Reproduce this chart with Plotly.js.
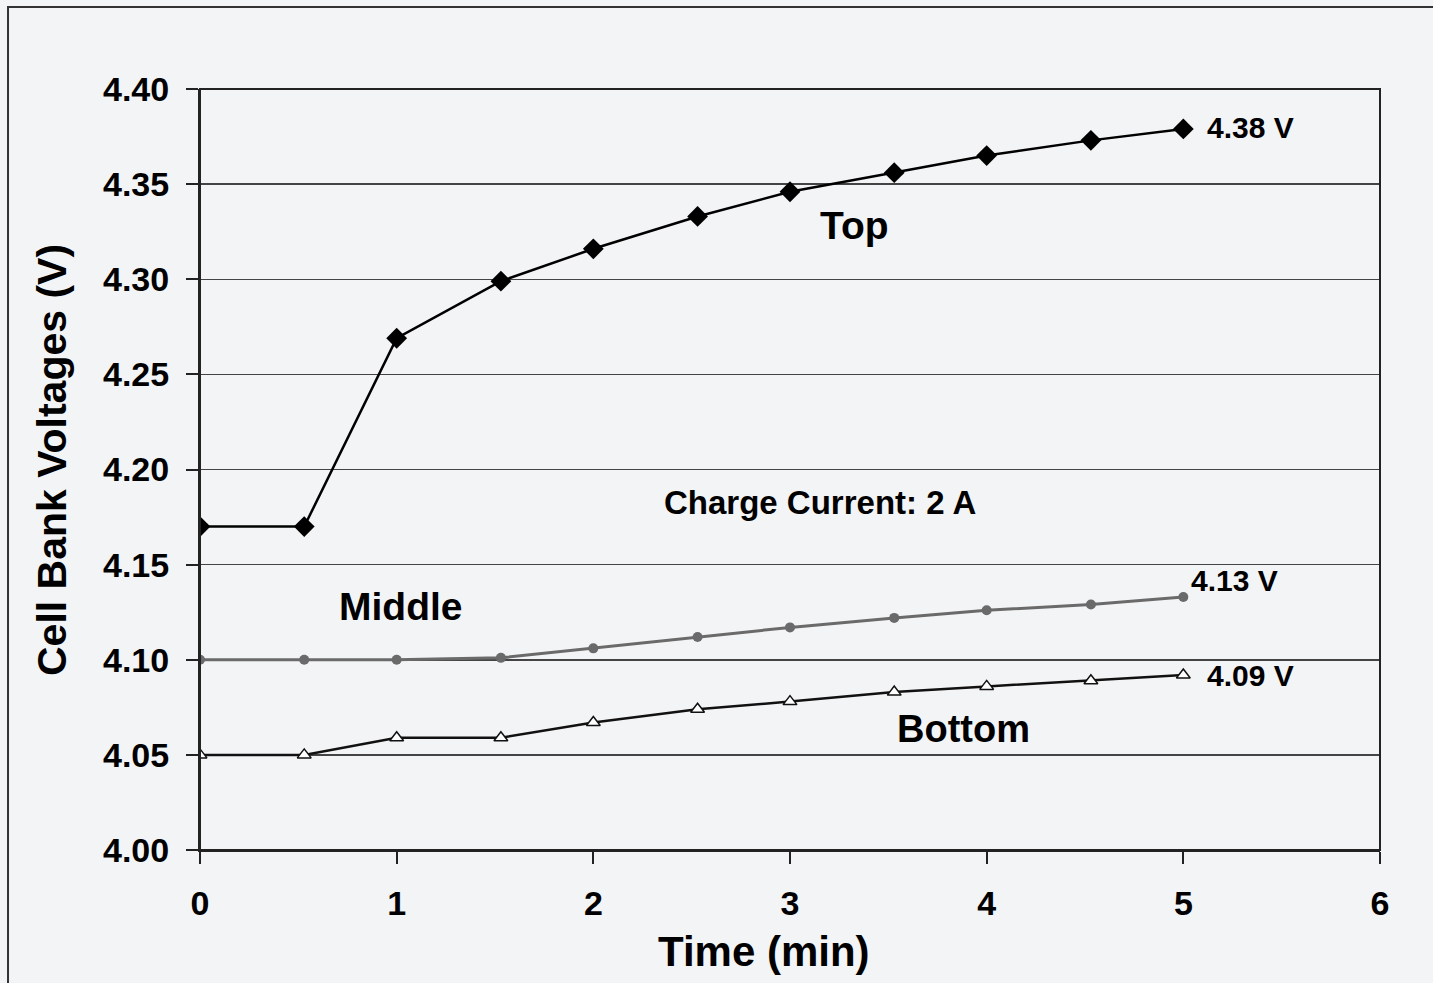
<!DOCTYPE html>
<html>
<head>
<meta charset="utf-8">
<script src="https://cdn.plot.ly/plotly-3.0.1.min.js"></script>
<style>
html,body{margin:0;padding:0;background:#f3f4f6;}
#chart{width:1433px;height:983px;}
</style>
</head>
<body>
<div id="chart"></div>
<script>
const timeMin = [0, 0.53, 1, 1.53, 2, 2.53, 3, 3.53, 4, 4.53, 5];
const topV = [4.170, 4.170, 4.269, 4.299, 4.316, 4.333, 4.346, 4.356, 4.365, 4.373, 4.379];
const middleV = [4.100, 4.100, 4.100, 4.101, 4.106, 4.112, 4.117, 4.122, 4.126, 4.129, 4.133];
const bottomV = [4.050, 4.050, 4.059, 4.059, 4.067, 4.074, 4.078, 4.083, 4.086, 4.089, 4.092];
const yTicks = [4.00, 4.05, 4.10, 4.15, 4.20, 4.25, 4.30, 4.35, 4.40];
const yTickText = ["4.00","4.05","4.10","4.15","4.20","4.25","4.30","4.35","4.40"];
const xTicks = [0,1,2,3,4,5,6];

const font = "Liberation Sans, Arial, sans-serif";

const traces = [
  {x: timeMin, y: middleV, mode: 'lines+markers', name: 'Middle',
   line: {color: '#6a6a6a', width: 3},
   marker: {symbol: 'circle', size: 10, color: '#6a6a6a'}},
  {x: timeMin, y: bottomV, mode: 'lines+markers', name: 'Bottom',
   line: {color: '#111', width: 2.5},
   marker: {symbol: 'triangle-up', size: 12, color: '#ffffff', line: {color: '#111', width: 1.5}}},
  {x: timeMin, y: topV, mode: 'lines+markers', name: 'Top',
   line: {color: '#000', width: 2.5},
   marker: {symbol: 'diamond', size: 16, color: '#000'}}
];

const layout = {
  width: 1433, height: 983,
  paper_bgcolor: '#f3f4f6', plot_bgcolor: '#f3f4f6',
  margin: {l: 200, r: 53, t: 89, b: 133},
  showlegend: false,
  font: {family: font, color: '#000'},
  xaxis: {
    range: [0, 6], tickvals: xTicks, ticktext: xTicks.map(String),
    showgrid: false, zeroline: false,
    showline: true, linecolor: '#222', linewidth: 2, mirror: false,
    ticks: 'outside', ticklen: 12, tickwidth: 2, tickcolor: '#222',
    ticklabelstandoff: 10,
    tickfont: {family: font, size: 34, weight: 'bold'}
  },
  yaxis: {
    range: [4.00, 4.40], tickvals: yTicks, ticktext: yTickText,
    showgrid: true, gridcolor: '#444', gridwidth: 1.5, zeroline: false,
    showline: true, linecolor: '#222', linewidth: 2,
    ticks: 'outside', ticklen: 12, tickwidth: 2, tickcolor: '#222',
    ticklabelstandoff: 10,
    tickfont: {family: font, size: 34, weight: 'bold'}
  },
  shapes: [
    {type: 'rect', xref: 'paper', yref: 'paper', x0: 0, x1: 1, y0: 0, y1: 1,
     line: {color: '#222', width: 2}, layer: 'above'},
    {type: 'rect', xref: 'paper', yref: 'paper', x0: -0.1627, x1: 1.2, y0: -0.3, y1: 1.1078,
     line: {color: '#333', width: 2}, layer: 'below'}
  ],
  annotations: [
    {xref: 'x', yref: 'paper', x: 2.867, y: -0.134, text: 'Time (min)', showarrow: false,
     xanchor: 'center', yanchor: 'middle', font: {family: font, size: 42, weight: 'bold'}},
    {xref: 'paper', yref: 'paper', x: -0.1254, y: 0.5125, text: 'Cell Bank Voltages (V)', showarrow: false,
     textangle: -90, xanchor: 'center', yanchor: 'middle', font: {family: font, size: 41, weight: 'bold'}},
    {x: 3.33, y: 4.3285, text: 'Top', showarrow: false, xanchor: 'center', yanchor: 'middle',
     font: {family: font, size: 39, weight: 'bold'}},
    {x: 1.02, y: 4.128, text: 'Middle', showarrow: false, xanchor: 'center', yanchor: 'middle',
     font: {family: font, size: 39, weight: 'bold'}},
    {x: 3.88, y: 4.0636, text: 'Bottom', showarrow: false, xanchor: 'center', yanchor: 'middle',
     font: {family: font, size: 38, weight: 'bold'}},
    {x: 3.15, y: 4.1824, text: 'Charge Current: 2 A', showarrow: false, xanchor: 'center', yanchor: 'middle',
     font: {family: font, size: 33, weight: 'bold'}},
    {x: 5.11, y: 4.380, text: '4.38 V', showarrow: false, xanchor: 'left', yanchor: 'middle',
     font: {family: font, size: 30, weight: 'bold'}},
    {x: 5.03, y: 4.1414, text: '4.13 V', showarrow: false, xanchor: 'left', yanchor: 'middle',
     font: {family: font, size: 30, weight: 'bold'}},
    {x: 5.11, y: 4.0915, text: '4.09 V', showarrow: false, xanchor: 'left', yanchor: 'middle',
     font: {family: font, size: 30, weight: 'bold'}}
  ]
};

Plotly.newPlot('chart', traces, layout, {displayModeBar: false, staticPlot: true});
</script>
</body>
</html>
